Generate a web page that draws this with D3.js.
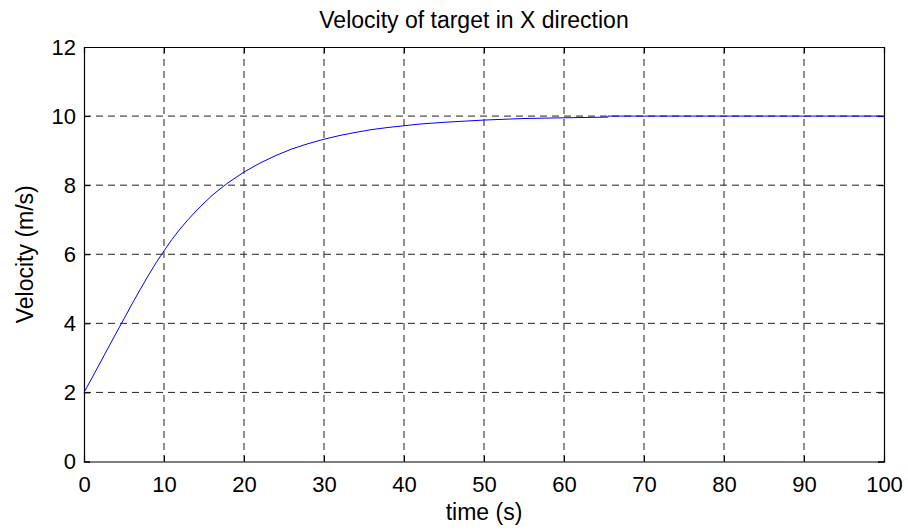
<!DOCTYPE html>
<html>
<head>
<meta charset="utf-8">
<script src="https://cdn.jsdelivr.net/npm/d3@7"></script>
<style>
  body { margin: 0; background: #fff; }
  svg { display: block; font-family: "Liberation Sans", Arial, sans-serif; }
</style>
</head>
<body>
<div id="chart"></div>
<script>
const timeValues = [0, 1, 2, 3, 4, 5, 6, 7, 8, 9, 10, 11, 12, 13, 14, 15, 16, 17, 18, 20,
  22, 24, 26, 28, 30, 32, 34, 36, 38, 40, 42, 45, 50, 55, 60, 65.5, 65.5, 100];
const velocityValues = [2.0, 2.42, 2.85, 3.28, 3.71, 4.13, 4.56, 4.97, 5.37, 5.75, 6.1, 6.43, 6.73, 7.0, 7.25, 7.48, 7.7, 7.89, 8.07, 8.38,
  8.64, 8.86, 9.05, 9.2, 9.33, 9.44, 9.53, 9.61, 9.67, 9.72, 9.77, 9.82, 9.885, 9.93, 9.95, 9.97, 10.0, 10.0];
const xTicks = [0, 10, 20, 30, 40, 50, 60, 70, 80, 90, 100];
const yTicks = [0, 2, 4, 6, 8, 10, 12];

const W = 908, H = 531;
const margin = { top: 47, right: 24, bottom: 69.5, left: 84 };
const width = W - margin.left - margin.right;
const height = H - margin.top - margin.bottom;

const svg = d3.select("#chart").append("svg")
  .attr("width", W)
  .attr("height", H);

const g = svg.append("g")
  .attr("transform", `translate(${margin.left},${margin.top})`);

const x = d3.scaleLinear().domain([0, 100]).range([0, width]);
const y = d3.scaleLinear().domain([0, 12]).range([height, 0]);

// grid
g.append("g")
  .selectAll("line")
  .data(xTicks.slice(1, -1))
  .join("line")
  .attr("x1", d => x(d)).attr("x2", d => x(d))
  .attr("y1", 0).attr("y2", height)
  .attr("stroke", "#222")
  .attr("stroke-dasharray", "7,5");

g.append("g")
  .selectAll("line")
  .data(yTicks.slice(1, -1))
  .join("line")
  .attr("x1", 0).attr("x2", width)
  .attr("y1", d => y(d)).attr("y2", d => y(d))
  .attr("stroke", "#222")
  .attr("stroke-dasharray", "7,5");

// axes
const xAxis = g.append("g")
  .attr("transform", `translate(0,${height})`)
  .call(d3.axisBottom(x).tickValues(xTicks).tickSize(-6).tickPadding(15));
const xAxisTop = g.append("g")
  .call(d3.axisTop(x).tickValues(xTicks).tickSize(-6).tickFormat(""));
const yAxis = g.append("g")
  .call(d3.axisLeft(y).tickValues(yTicks).tickSize(-6).tickPadding(8));
const yAxisRight = g.append("g")
  .attr("transform", `translate(${width},0)`)
  .call(d3.axisRight(y).tickValues(yTicks).tickSize(-6).tickFormat(""));

[xAxis, xAxisTop, yAxis, yAxisRight].forEach(a => {
  a.select(".domain").attr("stroke", "#000").attr("stroke-width", 1.2);
  a.selectAll(".tick line").attr("stroke", "#000");
  a.selectAll("text")
    .attr("fill", "#000")
    .style("font-size", "22px")
    .style("font-family", "'Liberation Sans', Arial, sans-serif");
});

// line
const line = d3.line()
  .x((d, i) => x(timeValues[i]))
  .y(d => y(d));

g.append("path")
  .datum(velocityValues)
  .attr("fill", "none")
  .attr("stroke", "#0000ff")
  .attr("stroke-width", 1)
  .attr("d", line);

// labels
svg.append("text")
  .attr("x", 474)
  .attr("y", 28)
  .attr("text-anchor", "middle")
  .style("font-size", "23px")
  .text("Velocity of target in X direction");

svg.append("text")
  .attr("x", margin.left + width / 2)
  .attr("y", 520)
  .attr("text-anchor", "middle")
  .style("font-size", "23px")
  .text("time (s)");

svg.append("text")
  .attr("transform", `translate(33,${margin.top + height / 2}) rotate(-90)`)
  .attr("text-anchor", "middle")
  .style("font-size", "23px")
  .text("Velocity (m/s)");
</script>
</body>
</html>
